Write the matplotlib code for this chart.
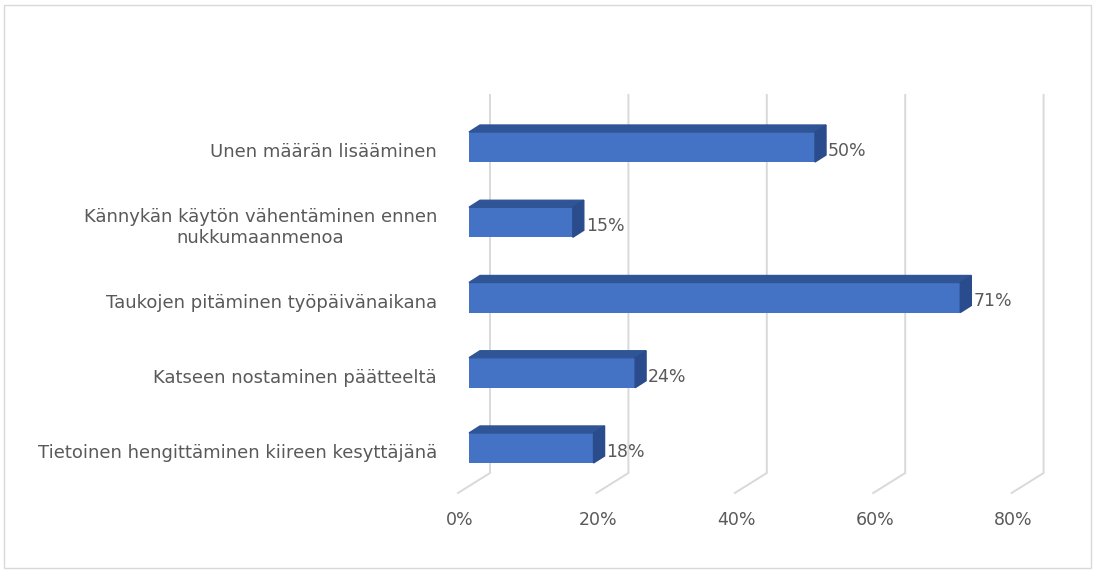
import matplotlib
matplotlib.use('Agg')
import matplotlib.pyplot as plt
from matplotlib.patches import Polygon, Rectangle

# Survey results: share of respondents per recovery method
categories = ['Unen määrän lisääminen',
              'Kännykän käytön vähentäminen ennen\nnukkumaanmenoa',
              'Taukojen pitäminen työpäivänaikana',
              'Katseen nostaminen päätteeltä',
              'Tietoinen hengittäminen kiireen kesyttäjänä']
values = [50, 15, 71, 24, 18]
ticks = [0, 20, 40, 60, 80]
tick_labels = ['0%', '20%', '40%', '60%', '80%']

FRONT = '#4472C4'
TOP = '#2F5597'
SIDE = '#2A4C8C'
GRID = '#D9D9D9'
TEXT = '#595959'

plt.rcParams['font.family'] = ['DejaVu Sans']

W, H = 1096, 573
fig = plt.figure(figsize=(W / 100, H / 100), dpi=100)

# front plane of the plot area (pixels from top-left)
x0, x1 = 469, 1022.6
y_top, y_bot = 109.4, 485.6
ax = fig.add_axes([x0 / W, 1 - y_bot / H, (x1 - x0) / W, (y_bot - y_top) / H])
ax.set_xlim(0, 80)
ax.set_ylim(len(categories) - 0.5, -0.5)
ax.axis('off')

ux = (x1 - x0) / 80                  # px per percent
uy = (y_bot - y_top) / len(categories)  # px per category


def py(p):
    # pixel row -> category coordinate
    return -0.5 + (p - y_top) / uy


# 3d walls: gridlines on the back wall, bent forward across the floor
floor_front_dx, floor_front_y = -11, 493
wall_dx, wall_floor_y, wall_top_y = 21, 473, 95
for t, lab in zip(ticks, tick_labels):
    xs = [t + floor_front_dx / ux, t + wall_dx / ux, t + wall_dx / ux]
    ys = [py(floor_front_y), py(wall_floor_y), py(wall_top_y)]
    ax.plot(xs, ys, color=GRID, lw=1.4, clip_on=False, zorder=1,
            solid_joinstyle='miter')
    ax.text(t - 9 / ux, py(520), lab, ha='center', va='center',
            color=TEXT, fontsize=12.5, clip_on=False)

# bars with top and side faces
bh = 30 / uy
ddx, ddy = 11 / ux, -7 / uy
ypos = list(range(len(categories)))
ax.barh(ypos, values, height=bh, color=FRONT, zorder=3)
for y, v in zip(ypos, values):
    t, b = y - bh / 2, y + bh / 2
    ax.add_patch(Polygon([(0, t), (v, t), (v + ddx, t + ddy), (ddx, t + ddy)],
                         closed=True, color=TOP, zorder=3, clip_on=False))
    ax.add_patch(Polygon([(v, t), (v, b), (v + ddx, b + ddy), (v + ddx, t + ddy)],
                         closed=True, color=SIDE, zorder=3, clip_on=False))
    ax.text(v + 13 / ux, y + 4 / uy, f'{v}%', ha='left', va='center',
            color=TEXT, fontsize=12.5, clip_on=False)

for y, lab in zip(ypos, categories):
    ax.text(-32 / ux, y + 5 / uy, lab, ha='right', va='center',
            multialignment='center', color=TEXT, fontsize=13,
            linespacing=1.25, clip_on=False)

# chart area border
fig.add_artist(Rectangle((4 / W, 1 - 568 / H), 1087 / W, 563 / H,
                         transform=fig.transFigure, fill=False,
                         edgecolor=GRID, lw=1))

fig.savefig('out.png', dpi=100, facecolor='white')
